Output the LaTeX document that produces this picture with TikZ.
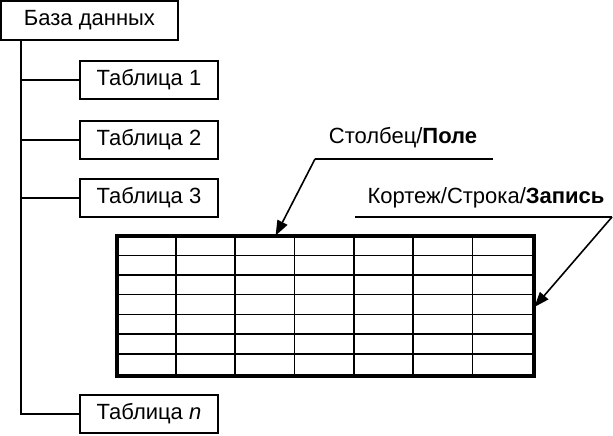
\documentclass[tikz,border=0pt]{standalone}
\usepackage{fontspec}
\setmainfont{Liberation Sans}
\usetikzlibrary{arrows.meta,calc}
\begin{document}
\begin{tikzpicture}[x=1pt,y=-1pt,
  every node/.style={font=\fontsize{22}{26}\selectfont},
  tblbox/.style={draw,line width=2pt,minimum width=138pt,minimum height=38pt,inner sep=0pt},
  treeline/.style={line width=2pt},
  lbl/.style={inner sep=0pt},
  uline/.style={line width=1.6pt},
  ptr/.style={line width=1.6pt,-{Triangle[length=15pt,width=11pt]}}]
\useasboundingbox (0,0) rectangle (613,436);
\node[tblbox,minimum width=177pt,minimum height=39pt] (db) at (89.5,20.5) {База данных};
\node[tblbox] (t1) at (149,80) {Таблица 1};
\node[tblbox] (t2) at (149,139.5) {Таблица 2};
\node[tblbox] (t3) at (149,198) {Таблица 3};
\node[tblbox] (tn) at (149,414) {Таблица \textit{n}};
\coordinate (trunk) at (21,40);
\draw[treeline] (trunk) |- (tn.west);
\foreach \t in {t1,t2,t3} \draw[treeline] (\t.west) -- (\t.west -| trunk);
% table grid
\node[draw,line width=2.8pt,minimum width=415pt,minimum height=138pt,inner sep=0pt] (grid) at (325.5,306) {};
\foreach \i in {1,...,6}
  \draw[line width=1.5pt] ($(grid.north west)+(\i*59.29,0)$) -- ($(grid.south west)+(\i*59.29,0)$);
\foreach \j in {1,...,6}
  \draw[line width=1.5pt] ($(grid.north west)+(0,\j*19.71)$) -- ($(grid.north east)+(0,\j*19.71)$);
\draw[line width=2.8pt] (grid.north west) rectangle (grid.south east);
% labels
\node[lbl] (col) at (403,138) {Столбец/\textbf{Поле}};
\node[lbl] (row) at (486,198) {Кортеж/Строка/\textbf{Запись}};
\coordinate (colA) at (315,159);
\coordinate (colB) at (493,159);
\coordinate (rowA) at (355,217);
\coordinate (rowB) at (612,217);
\draw[uline] (colA) -- (colB);
\draw[uline] (rowA) -- (rowB);
\draw[ptr] (colA) -- ($(grid.north west)+(159,0)$);
\draw[ptr] (rowB) -- ($(grid.east)+(0,1)$);
\end{tikzpicture}
\end{document}
